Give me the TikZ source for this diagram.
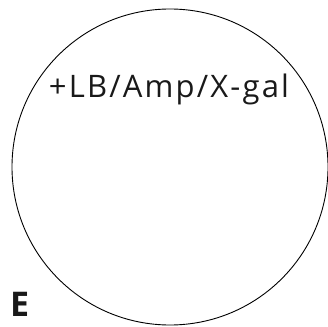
\documentclass[tikz,border=0pt]{standalone}
\usepackage{fontspec}
\setmainfont{Open Sans}
\newfontfamily\labelfont[LetterSpace=7]{Open Sans}
\tikzset{
  plate/.style={draw=black, line width=0.9pt},
  lbl/.style={inner sep=0pt, anchor=base, font=\labelfont\fontsize{31}{31}\selectfont, text=black!90},
  panel/.style={inner sep=0pt, anchor=base west, font=\fontsize{34}{34}\bfseries\selectfont, text=black!90}
}
\begin{document}
\begin{tikzpicture}[x=1pt,y=1pt]
  \useasboundingbox (0,0) rectangle (328,-326);
  % agar plate
  \draw[plate] (170,-167) circle (158);
  % medium label
  \node[lbl] (medium) at (169,-97) {+LB/Amp/X-gal};
  % panel letter
  \node[panel] (letter) at (10,-316) {E};
\end{tikzpicture}
\end{document}
